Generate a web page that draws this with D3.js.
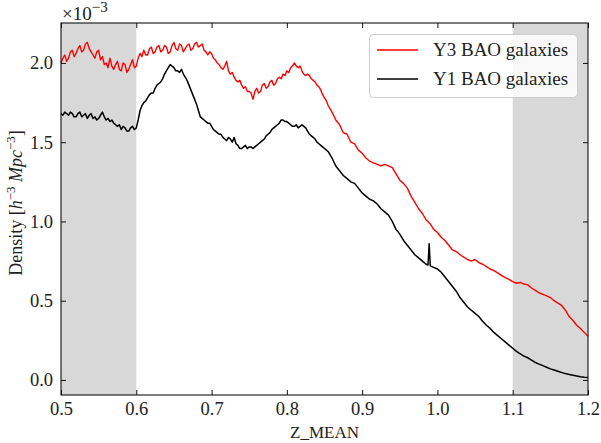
<!DOCTYPE html>
<html><head><meta charset="utf-8">
<script src="https://cdn.jsdelivr.net/npm/d3@7"></script>
<style>
html,body{margin:0;padding:0;background:#fff;}
svg{display:block;}
text{font-family:"Liberation Serif","Times New Roman",serif;fill:#222;}
</style></head>
<body>
<svg id="chart" width="601" height="443"></svg>
<script>
// ---- data (density in units of 1e-3 h^3 Mpc^-3) ----
const zMean = [
0.5000,0.5025,0.5050,0.5075,0.5100,0.5125,0.5150,0.5175,0.5200,0.5225,0.5250,0.5275,0.5300,0.5325,0.5350,0.5375,0.5400,0.5425,0.5450,0.5475,
0.5500,0.5525,0.5550,0.5575,0.5600,0.5625,0.5650,0.5675,0.5700,0.5725,0.5750,0.5775,0.5800,0.5825,0.5850,0.5875,0.5900,0.5925,0.5950,0.5975,
0.6000,0.6025,0.6050,0.6075,0.6100,0.6125,0.6150,0.6175,0.6200,0.6225,0.6250,0.6275,0.6300,0.6325,0.6350,0.6375,0.6400,0.6425,0.6450,0.6475,
0.6500,0.6525,0.6550,0.6575,0.6600,0.6625,0.6650,0.6675,0.6700,0.6725,0.6750,0.6775,0.6800,0.6825,0.6850,0.6875,0.6900,0.6925,0.6950,0.6975,
0.7000,0.7025,0.7050,0.7075,0.7100,0.7125,0.7150,0.7175,0.7200,0.7225,0.7250,0.7275,0.7300,0.7325,0.7350,0.7375,0.7400,0.7425,0.7450,0.7475,
0.7500,0.7525,0.7550,0.7575,0.7600,0.7625,0.7650,0.7675,0.7700,0.7725,0.7750,0.7775,0.7800,0.7825,0.7850,0.7875,0.7900,0.7925,0.7950,0.7975,
0.8000,0.8025,0.8050,0.8075,0.8100,0.8125,0.8150,0.8175,0.8200,0.8225,0.8250,0.8275,0.8300,0.8325,0.8350,0.8375,0.8400,0.8425,0.8450,0.8475,
0.8500,0.8525,0.8550,0.8575,0.8600,
0.865,0.870,0.875,0.880,0.885,0.890,0.895,0.900,0.905,0.910,0.915,0.920,0.925,0.930,0.935,0.940,0.945,0.950,0.955,0.960,0.965,0.970,0.975,0.980,0.985,
0.9875,0.989,0.9905,0.995,
1.000,1.005,1.010,1.015,1.020,1.025,1.030,1.035,1.040,1.045,1.050,1.055,1.060,1.065,1.070,1.075,1.080,1.085,1.090,1.095,
1.100,1.105,1.110,1.115,1.120,1.125,1.130,1.135,1.140,1.145,1.150,1.155,1.160,1.165,1.170,1.175,1.180,1.185,1.190,1.195,1.200];

const y3Density = [
2.00,2.03,2.05,2.01,2.03,2.07,2.08,2.04,2.06,2.09,2.11,2.07,2.08,2.12,2.13,2.09,2.07,2.05,2.03,2.07,
2.08,2.02,2.04,1.99,2.00,1.97,2.03,1.98,1.96,1.99,2.01,1.96,1.95,2.00,1.99,1.94,1.96,1.99,2.02,1.97,
1.98,2.03,2.06,2.04,2.08,2.05,2.05,2.09,2.10,2.06,2.07,2.10,2.11,2.07,2.08,2.11,2.10,2.06,2.07,2.11,
2.13,2.09,2.08,2.12,2.11,2.07,2.09,2.11,2.12,2.08,2.09,2.12,2.13,2.10,2.11,2.12,2.08,2.07,2.05,2.07,
2.06,2.03,2.02,2.00,1.99,1.97,1.96,1.98,2.01,1.95,1.93,1.94,1.91,1.89,1.88,1.89,1.86,1.84,1.85,1.82,
1.82,1.81,1.77,1.82,1.84,1.81,1.82,1.86,1.87,1.84,1.85,1.88,1.89,1.86,1.87,1.90,1.91,1.90,1.93,1.92,
1.95,1.94,1.97,1.98,2.00,1.98,1.97,1.98,1.95,1.93,1.92,1.93,1.92,1.90,1.89,1.88,1.86,1.85,1.83,1.80,
1.78,1.76,1.73,1.71,1.69,
1.64,1.61,1.56,1.55,1.50,1.49,1.45,1.43,1.40,1.38,1.37,1.36,1.35,1.36,1.35,1.34,1.30,1.26,1.24,1.21,1.16,1.12,1.08,1.05,1.01,
1.00,0.99,0.985,0.95,
0.93,0.90,0.88,0.85,0.82,0.81,0.79,0.775,0.76,0.75,0.76,0.74,0.73,0.715,0.70,0.69,0.675,0.66,0.645,0.635,
0.62,0.61,0.615,0.605,0.60,0.58,0.565,0.55,0.54,0.53,0.52,0.50,0.485,0.47,0.44,0.40,0.375,0.345,0.325,0.30,0.275];

const y1Density = [
1.68,1.67,1.69,1.68,1.67,1.69,1.68,1.66,1.66,1.68,1.69,1.66,1.67,1.68,1.65,1.67,1.68,1.65,1.66,1.64,
1.65,1.67,1.69,1.66,1.64,1.65,1.63,1.64,1.62,1.61,1.60,1.61,1.58,1.60,1.59,1.57,1.57,1.59,1.60,1.58,
1.59,1.64,1.70,1.73,1.75,1.76,1.78,1.80,1.81,1.81,1.84,1.86,1.87,1.88,1.90,1.93,1.95,1.97,1.99,1.98,
1.97,1.95,1.95,1.94,1.96,1.93,1.91,1.89,1.86,1.83,1.80,1.77,1.74,1.70,1.66,1.65,1.64,1.63,1.62,1.62,
1.60,1.58,1.57,1.56,1.55,1.55,1.53,1.52,1.51,1.53,1.52,1.50,1.53,1.49,1.48,1.46,1.46,1.47,1.48,1.46,
1.47,1.47,1.46,1.47,1.48,1.49,1.50,1.51,1.52,1.54,1.55,1.56,1.58,1.59,1.60,1.61,1.62,1.64,1.64,1.63,
1.63,1.62,1.61,1.60,1.60,1.61,1.59,1.60,1.61,1.60,1.59,1.57,1.55,1.54,1.53,1.52,1.50,1.49,1.48,1.47,
1.46,1.45,1.44,1.42,1.40,
1.35,1.32,1.29,1.27,1.25,1.24,1.21,1.18,1.16,1.14,1.13,1.11,1.08,1.06,1.04,1.00,0.95,0.92,0.88,0.85,0.82,0.79,0.77,0.75,0.73,
0.725,0.86,0.72,0.71,
0.70,0.68,0.65,0.62,0.59,0.56,0.52,0.49,0.46,0.44,0.42,0.40,0.37,0.345,0.325,0.30,0.28,0.26,0.24,0.22,
0.20,0.18,0.165,0.15,0.14,0.125,0.11,0.10,0.09,0.08,0.07,0.063,0.055,0.047,0.04,0.035,0.03,0.025,0.02,0.017,0.015];

const seriesNames = ["Y3 BAO galaxies", "Y1 BAO galaxies"];
const seriesColors = ["#ff0000", "#000000"];
const xTicks = [0.5,0.6,0.7,0.8,0.9,1.0,1.1,1.2];
const yTicks = [0.0,0.5,1.0,1.5,2.0];
const shadedRanges = [[0.5,0.6],[1.1,1.2]];

// ---- layout ----
const svg = d3.select("#chart");
const L = 61, R = 588, T = 23, B = 395;
const x = d3.scaleLinear().domain([0.5,1.2]).range([L,R]);
const y = d3.scaleLinear().domain([-0.095,2.252]).range([B,T]);

// shaded regions
svg.selectAll("rect.shade").data(shadedRanges).join("rect")
  .attr("class","shade")
  .attr("x", d=>x(d[0])).attr("width", d=>x(d[1])-x(d[0]))
  .attr("y", T).attr("height", B-T)
  .attr("fill","#d8d8d8");

// lines
const line = (vals) => d3.line().defined(d=>d!=null).x((d,i)=>x(zMean[i])).y(d=>y(d))(vals);
svg.append("path").attr("d", line(y3Density)).attr("fill","none")
  .attr("stroke", seriesColors[0]).attr("stroke-width",1.4).attr("stroke-linejoin","round");
svg.append("path").attr("d", line(y1Density)).attr("fill","none")
  .attr("stroke", seriesColors[1]).attr("stroke-width",1.5).attr("stroke-linejoin","round");

// axes (inward ticks on all sides)
const fs = 18.5;
const ax = svg.append("g").attr("transform",`translate(0,${B})`)
  .call(d3.axisBottom(x).tickValues(xTicks).tickFormat(d3.format(".1f")).tickSize(-5).tickSizeOuter(0).tickPadding(7));
const ay = svg.append("g").attr("transform",`translate(${L},0)`)
  .call(d3.axisLeft(y).tickValues(yTicks).tickFormat(d3.format(".1f")).tickSize(-5).tickSizeOuter(0).tickPadding(8));
const at = svg.append("g").attr("transform",`translate(0,${T})`)
  .call(d3.axisTop(x).tickValues(xTicks).tickFormat("").tickSize(-5).tickSizeOuter(0));
const ar = svg.append("g").attr("transform",`translate(${R},0)`)
  .call(d3.axisRight(y).tickValues(yTicks).tickFormat("").tickSize(-5).tickSizeOuter(0));
[ax,ay,at,ar].forEach(g=>{
  g.select(".domain").remove();
  g.selectAll(".tick line").attr("stroke","#111").attr("stroke-width",1);
  g.selectAll(".tick text").attr("font-family",'"Liberation Serif",serif').attr("font-size",fs).attr("fill","#222");
});
svg.append("rect").attr("x",L).attr("y",T).attr("width",R-L).attr("height",B-T)
  .attr("fill","none").attr("stroke","#111").attr("stroke-width",1.1);

// multiplier
const mt = svg.append("text").attr("x",62).attr("y",20).attr("font-size",19);
mt.append("tspan").text("\u00d710");
mt.append("tspan").attr("dy",-8).attr("font-size",15).text("\u22123");

// y label
const yl = svg.append("text").attr("transform","translate(22,203) rotate(-90)")
  .attr("text-anchor","middle").attr("font-size",18);
yl.append("tspan").text("Density [");
yl.append("tspan").attr("font-style","italic").text("h");
yl.append("tspan").attr("dy",-7).attr("font-size",13).text("\u22123");
yl.append("tspan").attr("dy",7).text(" ");
yl.append("tspan").attr("font-style","italic").text("Mpc");
yl.append("tspan").attr("dy",-7).attr("font-size",13).text("\u22123");
yl.append("tspan").attr("dy",7).text("]");

// x label
svg.append("text").attr("x",(L+R)/2).attr("y",438).attr("text-anchor","middle")
  .attr("font-family",'"Liberation Mono",monospace').attr("font-size",17).attr("fill","#111")
  .text("Z_MEAN");

// legend
const lg = svg.append("g");
lg.append("rect").attr("x",369.5).attr("y",34.5).attr("width",208).attr("height",63)
  .attr("rx",4).attr("fill","rgba(255,255,255,0.85)").attr("stroke","#cccccc").attr("stroke-width",1);
seriesNames.forEach((n,i)=>{
  const yy = 50 + i*29;
  lg.append("line").attr("x1",377).attr("x2",418).attr("y1",yy).attr("y2",yy)
    .attr("stroke",seriesColors[i]).attr("stroke-width",1.5);
  lg.append("text").attr("x",433).attr("y",yy+6).attr("font-size",19).text(n);
});
</script>
</body></html>
